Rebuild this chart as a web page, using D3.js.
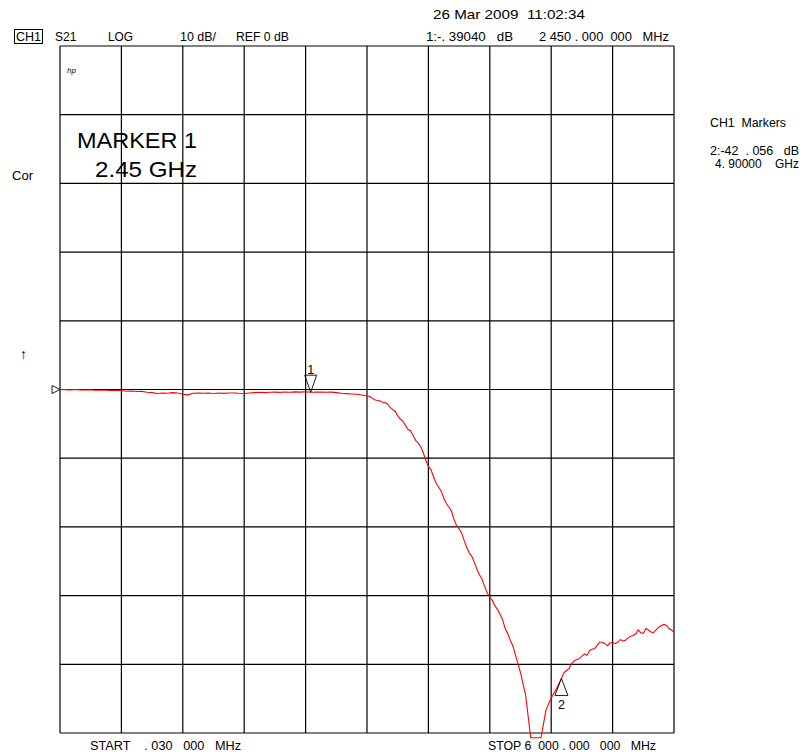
<!DOCTYPE html>
<html><head><meta charset="utf-8">
<script src="https://cdn.jsdelivr.net/npm/d3@7"></script>
<style>
body{margin:0;background:#fff;}
text{font-family:"Liberation Sans",Arial,sans-serif;fill:#000;white-space:pre;}
</style></head>
<body><svg id="chart" width="804" height="756"></svg>
<script>
// Sweep frequencies (GHz) and measured S21 (dB)
const freqGHz = [0.00003,0.05,0.10,0.15,0.20,0.25,0.30,0.35,0.40,0.45,0.50,0.55,0.60,0.65,0.70,0.75,0.80,0.85,0.90,0.95,
1.00,1.05,1.10,1.15,1.20,1.25,1.30,1.35,1.40,1.45,1.50,1.55,1.60,1.65,1.70,1.75,1.80,1.85,1.90,1.95,
2.00,2.05,2.10,2.15,2.20,2.25,2.30,2.35,2.40,2.45,2.50,2.55,2.60,2.65,2.70,2.75,2.80,2.85,2.90,2.95,
3.00,3.025,3.05,3.075,3.10,3.125,3.15,3.175,3.20,3.225,3.25,3.275,3.30,3.325,3.35,3.375,3.40,3.425,3.45,3.475,
3.50,3.525,3.55,3.575,3.60,3.625,3.65,3.675,3.70,3.725,3.75,3.775,3.80,3.825,3.85,3.875,3.90,3.925,3.95,3.975,
4.00,4.025,4.05,4.075,4.10,4.125,4.15,4.175,4.20,4.225,4.25,4.275,4.30,4.325,4.35,4.375,4.40,4.425,4.45,4.475,4.50,
4.55,4.60,4.65,4.70,4.75,4.80,4.85,4.90,
4.925,4.95,4.975,5.00,5.025,5.05,5.075,5.10,5.125,5.15,5.175,5.20,5.225,5.25,5.275,5.30,5.325,5.35,5.375,5.40,
5.425,5.45,5.475,5.50,5.525,5.55,5.575,5.60,5.625,5.65,5.675,5.70,5.725,5.75,5.775,5.80,5.825,5.85,5.875,5.90,
5.925,5.95,5.975,6.00];
const s21dB = [0.0,-0.02,-0.05,0.0,-0.05,-0.08,-0.06,-0.10,-0.12,-0.10,-0.15,-0.12,-0.14,-0.25,-0.22,-0.30,-0.28,-0.40,-0.45,-0.58,
-0.52,-0.55,-0.45,-0.50,-0.70,-0.78,-0.55,-0.50,-0.55,-0.50,-0.58,-0.50,-0.56,-0.52,-0.50,-0.55,-0.58,-0.50,-0.45,-0.40,
-0.45,-0.40,-0.38,-0.42,-0.36,-0.40,-0.35,-0.38,-0.33,-0.39,-0.36,-0.38,-0.40,-0.38,-0.45,-0.55,-0.60,-0.65,-0.70,-0.80,
-0.95,-1.0,-1.25,-1.5,-1.6,-1.65,-1.85,-1.9,-2.1,-2.6,-2.9,-3.2,-3.8,-4.3,-4.6,-5.2,-5.8,-6.0,-6.7,-7.4,
-7.8,-8.3,-9.2,-10.3,-11.2,-11.7,-12.7,-13.6,-14.2,-14.8,-15.8,-16.6,-17.1,-17.7,-18.9,-19.8,-20.3,-20.9,-22.0,-23.0,
-23.8,-24.3,-25.2,-26.2,-27.0,-27.6,-28.7,-29.6,-30.3,-30.7,-31.5,-32.0,-32.7,-33.5,-34.8,-35.5,-36.5,-37.3,-38.6,-39.9,-41.2,
-44.5,-50.7,-50.7,-50.7,-46.6,-44.9,-43.6,-42.06,
-41.2,-40.9,-40.6,-39.9,-39.5,-39.3,-39.2,-38.8,-38.5,-38.7,-38.0,-37.8,-37.7,-37.2,-36.8,-36.8,-37.0,-37.3,-36.9,-36.8,
-37.0,-36.8,-36.4,-36.6,-36.5,-36.2,-35.9,-35.8,-35.6,-35.0,-35.4,-35.5,-34.8,-35.0,-35.3,-35.4,-35.0,-34.6,-34.4,-34.2,
-34.3,-34.8,-35.0,-35.3];
const markers = [{id:"1", f:2.45, db:-0.3904, dir:"down"},{id:"2", f:4.90, db:-42.056, dir:"up"}];
const xDomain = [0.00003, 6.0];
const yDomain = [-50, 50];
const xDivs = 10, yDivs = 10;

const svg = d3.select("#chart");
const L=60, R=674, T=46, B=733;
const x = d3.scaleLinear().domain(xDomain).range([L,R]);
const y = d3.scaleLinear().domain(yDomain).range([B,T]);

// grid
const g = svg.append("g");
const xt = d3.range(xDivs+1).map(i=>xDomain[0]+(xDomain[1]-xDomain[0])*i/xDivs);
const yt = d3.range(yDivs+1).map(i=>yDomain[0]+(yDomain[1]-yDomain[0])*i/yDivs);
g.selectAll("line.v").data(xt).join("line").attr("class","v").attr("x1",d=>x(d)).attr("x2",d=>x(d)).attr("y1",T).attr("y2",B).attr("stroke","#000").attr("stroke-width",1.2);
g.selectAll("line.h").data(yt).join("line").attr("class","h").attr("x1",L).attr("x2",R).attr("y1",d=>y(d)).attr("y2",d=>y(d)).attr("stroke","#000").attr("stroke-width",1.2);

// trace
const pts = freqGHz.map((f,i)=>[f,s21dB[i]]);
svg.append("path").datum(pts).attr("fill","none").attr("stroke","#ff0000").attr("stroke-width",1.1)
  .attr("d", d3.line().x(d=>x(d[0])).y(d=>y(d[1])));

// reference marker on left
const r0 = y(0);
svg.append("path").attr("d",`M52,${r0-4}L60,${r0}L52,${r0+4}Z`).attr("fill","none").attr("stroke","#000").attr("stroke-width",0.9);

// markers
markers.forEach(m=>{
  const mx=x(m.f), my=y(m.db);
  if(m.dir==="down"){
    svg.append("path").attr("d",`M${mx},${my}L${mx-6},${my-17}L${mx+6},${my-17}Z`).attr("fill","none").attr("stroke","#000").attr("stroke-width",0.9);
    svg.append("text").attr("x",mx).attr("y",my-18).attr("text-anchor","middle").attr("font-size",12.5).text(m.id);
  } else {
    svg.append("path").attr("d",`M${mx},${my}L${mx-6.5},${my+17}L${mx+6.5},${my+17}Z`).attr("fill","none").attr("stroke","#000").attr("stroke-width",0.9);
    svg.append("text").attr("x",mx).attr("y",my+31).attr("text-anchor","middle").attr("font-size",12.5).text(m.id);
  }
});

// texts (x0, baseline, string, size, target width)
function t(xp,yp,s,size,w,extra){
  const e=svg.append("text").attr("x",xp).attr("y",yp).attr("font-size",size).text(s);
  if(w) e.attr("textLength",w).attr("lengthAdjust","spacingAndGlyphs");
  if(extra) extra(e); return e;}
t(433,19,"26 Mar 2009  11:02:34",13.5,152);
svg.append("rect").attr("x",14.5).attr("y",29.5).attr("width",28).attr("height",14).attr("fill","none").attr("stroke","#000").attr("stroke-width",1);
t(16,41,"CH1",12,25);
t(55,41,"S21",12,21.5);
t(108,41,"LOG",12,25);
t(180,41,"10 dB/",12,36);
t(236,41,"REF 0 dB",12,53);
t(426,41,"1:-. 39040   dB",12,87);
t(539,41,"2 450 . 000  000   MHz",12,130);
t(67,73,"hp",8,null, e=>e.attr("font-style","italic"));
t(77,148,"MARKER 1",21.5,120);
t(95,177,"2.45 GHz",21.5,102);
t(710,127,"CH1  Markers",12,76);
t(710,155,"2:-42  . 056   dB",12,89);
t(715,168,"4. 90000    GHz",12,84);
t(12,180,"Cor",12,21);
t(20,359,"↑",14);
t(90,750,"START    . 030   000   MHz",12,151);
t(488,750,"STOP 6  000 . 000   000   MHz",12,168);
</script></body></html>
